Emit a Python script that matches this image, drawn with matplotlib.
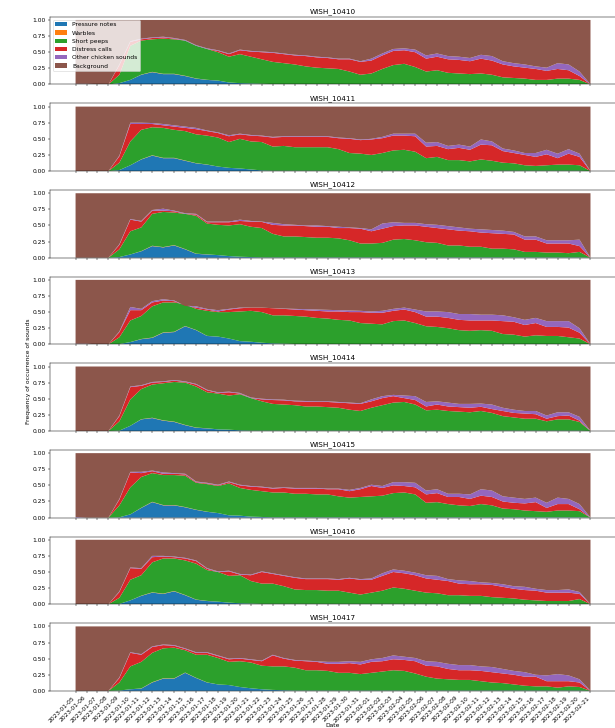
import numpy as np
import pandas as pd
import matplotlib
matplotlib.use('Agg')
import matplotlib.pyplot as plt
import matplotlib.dates as mdates

# one value per day, 2023-01-05 .. 2023-02-21
dates = pd.date_range('2023-01-05', '2023-02-21', freq='D')

labels = ['Pressure notes', 'Warbles', 'Short peeps', 'Distress calls',
          'Other chicken sounds', 'Background']

# cumulative upper edge of each layer per unit:
# p = pressure notes, s = + short peeps, d = + distress calls, o = + other sounds
# (everything above o is background)
p10410 = [0, 0, 0, 0, .02, .07, .15, .19, .16, .16, .13, .09, .07, .06, .03, .02,
          .015, .01, .005, .005, .005, .005, .005, .005, .005, .005, .005, .005, .005, .005, .005, .005,
          .005, .005, .005, .005, .005, .005, .005, .005, .005, .005, .005, .005, .005, .005, .005, 0]
s10410 = [0, 0, 0, 0, .15, .6, .68, .7, .71, .7, .68, .6, .55, .5, .43, .47,
          .43, .39, .35, .33, .31, .28, .26, .25, .24, .2, .15, .17, .24, .3, .32, .27,
          .2, .22, .18, .17, .16, .17, .15, .11, .1, .09, .07, .07, .09, .09, .07, 0]
d10410 = [0, 0, 0, 0, .3, .66, .7, .72, .73, .71, .68, .6, .55, .52, .47, .53,
          .51, .5, .49, .47, .45, .44, .42, .41, .39, .39, .35, .37, .45, .52, .53, .5,
          .4, .43, .39, .38, .36, .4, .37, .31, .28, .26, .24, .21, .24, .22, .13, 0]
o10410 = [.01, .01, .005, 0, .31, .67, .71, .73, .74, .72, .69, .61, .56, .53, .48, .54,
          .52, .51, .5, .48, .46, .45, .43, .42, .4, .4, .36, .4, .48, .55, .56, .54,
          .45, .48, .44, .43, .41, .46, .44, .36, .33, .31, .28, .26, .33, .31, .2, 0]

p10411 = [0, 0, 0, 0, .015, .09, .18, .24, .2, .2, .16, .12, .1, .07, .05, .04,
          .025, .01, .005, .005, .005, .005, .005, .005, .005, .005, .005, .005, .005, .005, .005, .005,
          .005, .005, .005, .005, .005, .005, .005, .005, .005, .005, .005, .005, .005, .005, .005, 0]
s10411 = [0, 0, 0, 0, .13, .46, .64, .68, .67, .64, .62, .57, .55, .52, .45, .5,
          .46, .45, .38, .39, .37, .37, .37, .37, .34, .28, .27, .25, .28, .32, .33, .3,
          .2, .22, .17, .17, .15, .18, .16, .13, .12, .09, .08, .09, .1, .1, .09, 0]
d10411 = [0, 0, 0, 0, .23, .73, .73, .73, .71, .69, .67, .65, .62, .59, .54, .57,
          .55, .54, .52, .53, .53, .53, .53, .53, .51, .5, .48, .49, .51, .55, .55, .54,
          .38, .39, .34, .36, .33, .41, .4, .31, .28, .25, .22, .26, .2, .27, .22, 0]
o10411 = [0, 0, 0, 0, .24, .75, .75, .745, .73, .71, .69, .67, .63, .6, .555, .58,
          .56, .55, .53, .54, .54, .54, .54, .54, .52, .51, .49, .5, .53, .58, .58, .58,
          .44, .45, .39, .41, .38, .49, .46, .35, .32, .28, .28, .33, .27, .34, .27, 0]

p10412 = [0, 0, 0, 0, .01, .05, .1, .18, .16, .19, .13, .06, .05, .04, .025, .015,
          .01, .005, .005, .005, .005, .005, .005, .005, .005, .005, .005, .005, .005, .005, .005, .005,
          .005, .005, .005, .005, .005, .005, .005, .005, .005, .005, .005, .005, .005, .005, .005, 0]
s10412 = [0, 0, 0, 0, .13, .41, .47, .68, .71, .7, .68, .65, .53, .51, .5, .52,
          .48, .46, .37, .33, .33, .32, .31, .31, .3, .27, .22, .22, .23, .28, .29, .27,
          .24, .23, .19, .19, .17, .17, .14, .14, .13, .09, .09, .08, .08, .07, .09, 0]
d10412 = [0, 0, 0, 0, .2, .59, .56, .73, .73, .72, .68, .67, .55, .55, .55, .57,
          .56, .555, .51, .5, .5, .49, .48, .48, .46, .46, .45, .41, .45, .49, .5, .5,
          .48, .46, .44, .42, .41, .39, .38, .37, .36, .28, .28, .22, .22, .22, .18, 0]
o10412 = [0, 0, 0, 0, .21, .6, .57, .74, .76, .73, .69, .68, .56, .56, .56, .59,
          .57, .56, .54, .52, .51, .5, .5, .49, .48, .47, .46, .44, .53, .55, .54, .54,
          .52, .51, .49, .47, .45, .44, .43, .42, .4, .33, .33, .27, .27, .27, .28, 0]

p10413 = [0, 0, 0, 0, .005, .035, .08, .1, .18, .19, .28, .22, .13, .12, .09, .05,
          .04, .025, .015, .01, .005, .005, .005, .005, .005, .005, .005, .005, .005, .005, .005, .005,
          .005, .005, .005, .005, .005, .005, .005, .005, .005, .005, .005, .005, .005, .005, .005, 0]
s10413 = [0, 0, 0, 0, .11, .37, .44, .59, .65, .65, .62, .55, .52, .5, .5, .51,
          .52, .5, .45, .45, .44, .43, .41, .4, .38, .37, .33, .32, .31, .36, .37, .33,
          .28, .27, .25, .22, .21, .22, .21, .16, .15, .12, .14, .13, .13, .11, .09, 0]
d10413 = [0, 0, 0, 0, .19, .53, .53, .65, .68, .67, .6, .57, .54, .51, .54, .56,
          .57, .57, .56, .55, .54, .53, .52, .51, .51, .5, .5, .49, .49, .52, .54, .5,
          .43, .43, .41, .38, .37, .37, .37, .36, .35, .3, .33, .27, .27, .26, .18, 0]
o10413 = [.01, .01, 0, 0, .2, .58, .55, .67, .7, .68, .6, .59, .55, .53, .55, .57,
          .57, .57, .56, .555, .55, .545, .54, .535, .53, .525, .52, .51, .52, .55, .57, .54,
          .51, .51, .5, .47, .47, .46, .46, .45, .42, .38, .41, .36, .36, .36, .25, 0]

p10414 = [0, 0, 0, 0, .005, .08, .18, .2, .16, .14, .09, .05, .04, .025, .02, .01,
          .005, .005, .005, .005, .005, .005, .005, .005, .005, .005, .005, .005, .005, .005, .005, .005,
          .005, .005, .005, .005, .005, .005, .005, .005, .005, .005, .005, .005, .005, .005, .005, 0]
s10414 = [0, 0, 0, 0, .15, .49, .65, .72, .74, .76, .75, .69, .6, .58, .55, .57,
          .51, .46, .42, .41, .4, .38, .38, .37, .36, .33, .31, .36, .4, .44, .45, .41,
          .32, .33, .31, .3, .29, .31, .28, .23, .21, .19, .19, .15, .18, .18, .14, 0]
d10414 = [0, 0, 0, 0, .23, .68, .7, .75, .76, .78, .76, .72, .63, .59, .6, .58,
          .51, .49, .48, .475, .46, .455, .45, .45, .44, .43, .42, .46, .51, .54, .51, .48,
          .38, .41, .38, .37, .36, .375, .34, .31, .28, .27, .26, .19, .23, .24, .16, 0]
o10414 = [0, 0, 0, 0, .24, .69, .71, .76, .77, .79, .77, .73, .64, .6, .61, .59,
          .52, .5, .49, .485, .47, .465, .46, .46, .45, .44, .43, .49, .54, .56, .55, .54,
          .45, .46, .44, .42, .42, .425, .41, .36, .33, .31, .31, .24, .29, .29, .22, 0]

p10415 = [0, 0, 0, 0, .005, .05, .15, .24, .19, .19, .16, .12, .09, .07, .035, .03,
          .015, .01, .005, .005, .005, .005, .005, .005, .005, .005, .005, .005, .005, .005, .005, .005,
          .005, .005, .005, .005, .005, .005, .005, .005, .005, .005, .005, .005, .005, .005, .005, 0]
s10415 = [0, 0, 0, 0, .19, .47, .63, .69, .66, .66, .65, .54, .52, .49, .53, .46,
          .43, .41, .39, .39, .37, .37, .36, .36, .33, .31, .32, .33, .34, .38, .39, .36,
          .23, .24, .21, .19, .18, .21, .19, .14, .13, .11, .1, .09, .11, .11, .1, 0]
d10415 = [0, 0, 0, 0, .28, .7, .69, .72, .68, .68, .67, .55, .53, .5, .55, .5,
          .48, .47, .45, .46, .45, .45, .45, .44, .44, .41, .44, .49, .46, .5, .49, .47,
          .36, .38, .32, .32, .29, .34, .32, .25, .23, .22, .24, .15, .21, .21, .13, 0]
o10415 = [.01, 0, 0, 0, .29, .71, .71, .73, .7, .69, .68, .56, .54, .51, .56, .51,
          .49, .48, .46, .47, .46, .46, .46, .45, .45, .43, .46, .51, .49, .55, .55, .54,
          .42, .44, .37, .37, .36, .44, .42, .33, .31, .29, .31, .23, .31, .29, .21, 0]

p10416 = [0, 0, 0, 0, .005, .06, .13, .18, .16, .2, .14, .07, .05, .04, .025, .015,
          .01, .005, .005, .005, .005, .005, .005, .005, .005, .005, .005, .005, .005, .005, .005, .005,
          .005, .005, .005, .005, .005, .005, .005, .005, .005, .005, .005, .005, .005, .005, .005, 0]
s10416 = [0, 0, 0, 0, .1, .38, .45, .65, .71, .71, .68, .63, .53, .5, .44, .45,
          .36, .32, .32, .28, .23, .22, .22, .21, .21, .18, .15, .18, .21, .26, .24, .21,
          .18, .17, .14, .14, .13, .13, .11, .1, .09, .07, .06, .05, .05, .05, .08, 0]
d10416 = [0, 0, 0, 0, .19, .56, .55, .73, .74, .73, .71, .67, .55, .5, .51, .46,
          .45, .5, .47, .44, .41, .39, .39, .39, .38, .4, .38, .38, .44, .5, .48, .45,
          .4, .38, .36, .32, .31, .31, .3, .27, .24, .22, .21, .18, .18, .18, .16, 0]
o10416 = [0, 0, 0, 0, .2, .57, .56, .75, .75, .74, .72, .68, .56, .51, .52, .47,
          .46, .51, .48, .45, .42, .4, .4, .4, .39, .41, .39, .4, .48, .54, .52, .49,
          .45, .44, .39, .37, .36, .34, .33, .31, .28, .27, .24, .22, .22, .23, .19, 0]

p10417 = [0, 0, 0, 0, .005, .025, .035, .13, .19, .19, .28, .2, .13, .1, .09, .06,
          .04, .025, .015, .01, .005, .005, .005, .005, .005, .005, .005, .005, .005, .005, .005, .005,
          .005, .005, .005, .005, .005, .005, .005, .005, .005, .005, .005, .005, .005, .005, .005, 0]
s10417 = [0, 0, 0, 0, .13, .38, .45, .59, .66, .67, .63, .56, .56, .51, .45, .46,
          .44, .39, .38, .38, .36, .32, .32, .31, .28, .28, .26, .28, .3, .32, .31, .27,
          .22, .19, .18, .17, .17, .15, .13, .12, .1, .08, .07, .07, .05, .07, .06, 0]
d10417 = [0, 0, 0, 0, .2, .59, .56, .68, .71, .7, .65, .59, .59, .54, .49, .5,
          .48, .46, .55, .5, .47, .46, .45, .42, .42, .43, .41, .45, .46, .49, .48, .46,
          .39, .38, .34, .32, .32, .31, .29, .27, .25, .22, .22, .15, .15, .15, .13, 0]
o10417 = [0, 0, 0, 0, .21, .6, .57, .69, .72, .71, .66, .6, .6, .55, .5, .51,
          .49, .47, .56, .51, .48, .47, .46, .45, .45, .46, .45, .49, .51, .55, .53, .51,
          .46, .45, .42, .4, .4, .38, .37, .34, .31, .29, .25, .24, .26, .24, .18, 0]

# warbles are only a sliver, sitting on top of the pressure notes
warbles = [0, 0, 0, 0, 0, 0, .003, .005, .005, .005, .004, .003, .002, 0, 0, 0,
           0, 0, 0, 0, 0, 0, 0, 0, 0, 0, 0, 0, 0, 0, 0, 0,
           0, 0, 0, 0, 0, 0, 0, 0, 0, 0, 0, 0, 0, 0, 0, 0]

units = [
    ('WISH_10410', p10410, s10410, d10410, o10410),
    ('WISH_10411', p10411, s10411, d10411, o10411),
    ('WISH_10412', p10412, s10412, d10412, o10412),
    ('WISH_10413', p10413, s10413, d10413, o10413),
    ('WISH_10414', p10414, s10414, d10414, o10414),
    ('WISH_10415', p10415, s10415, d10415, o10415),
    ('WISH_10416', p10416, s10416, d10416, o10416),
    ('WISH_10417', p10417, s10417, d10417, o10417),
]

dpi = 43.5
fig, axes = plt.subplots(len(units), 1, figsize=(615 / dpi, 728 / dpi), dpi=dpi, sharex=True)
fig.subplots_adjust(left=0.081, right=1.002, top=0.977, bottom=0.051, hspace=0.28)

for ax, (name, p, s, d, o) in zip(axes, units):
    p, s, d, o = (np.array(v, dtype=float) for v in (p, s, d, o))
    w = np.minimum(np.array(warbles), s - p)
    layers = [p, w, s - p - w, d - s, o - d, 1 - o]
    ax.stackplot(dates, layers, labels=labels)
    ax.set_title(name)
    ax.set_yticks([0, 0.25, 0.5, 0.75, 1.0])

axes[0].legend(loc='upper left')

axes[-1].set_xticks(dates)
axes[-1].xaxis.set_major_formatter(mdates.DateFormatter('%Y-%m-%d'))
plt.setp(axes[-1].get_xticklabels(), rotation=45, ha='right')
axes[-1].set_xlabel('Date', labelpad=0)

fig.text(0.047, 0.49, 'Frequency of occurrence of sounds', rotation=90, va='center', ha='center')

fig.savefig('out.png', dpi=dpi)
